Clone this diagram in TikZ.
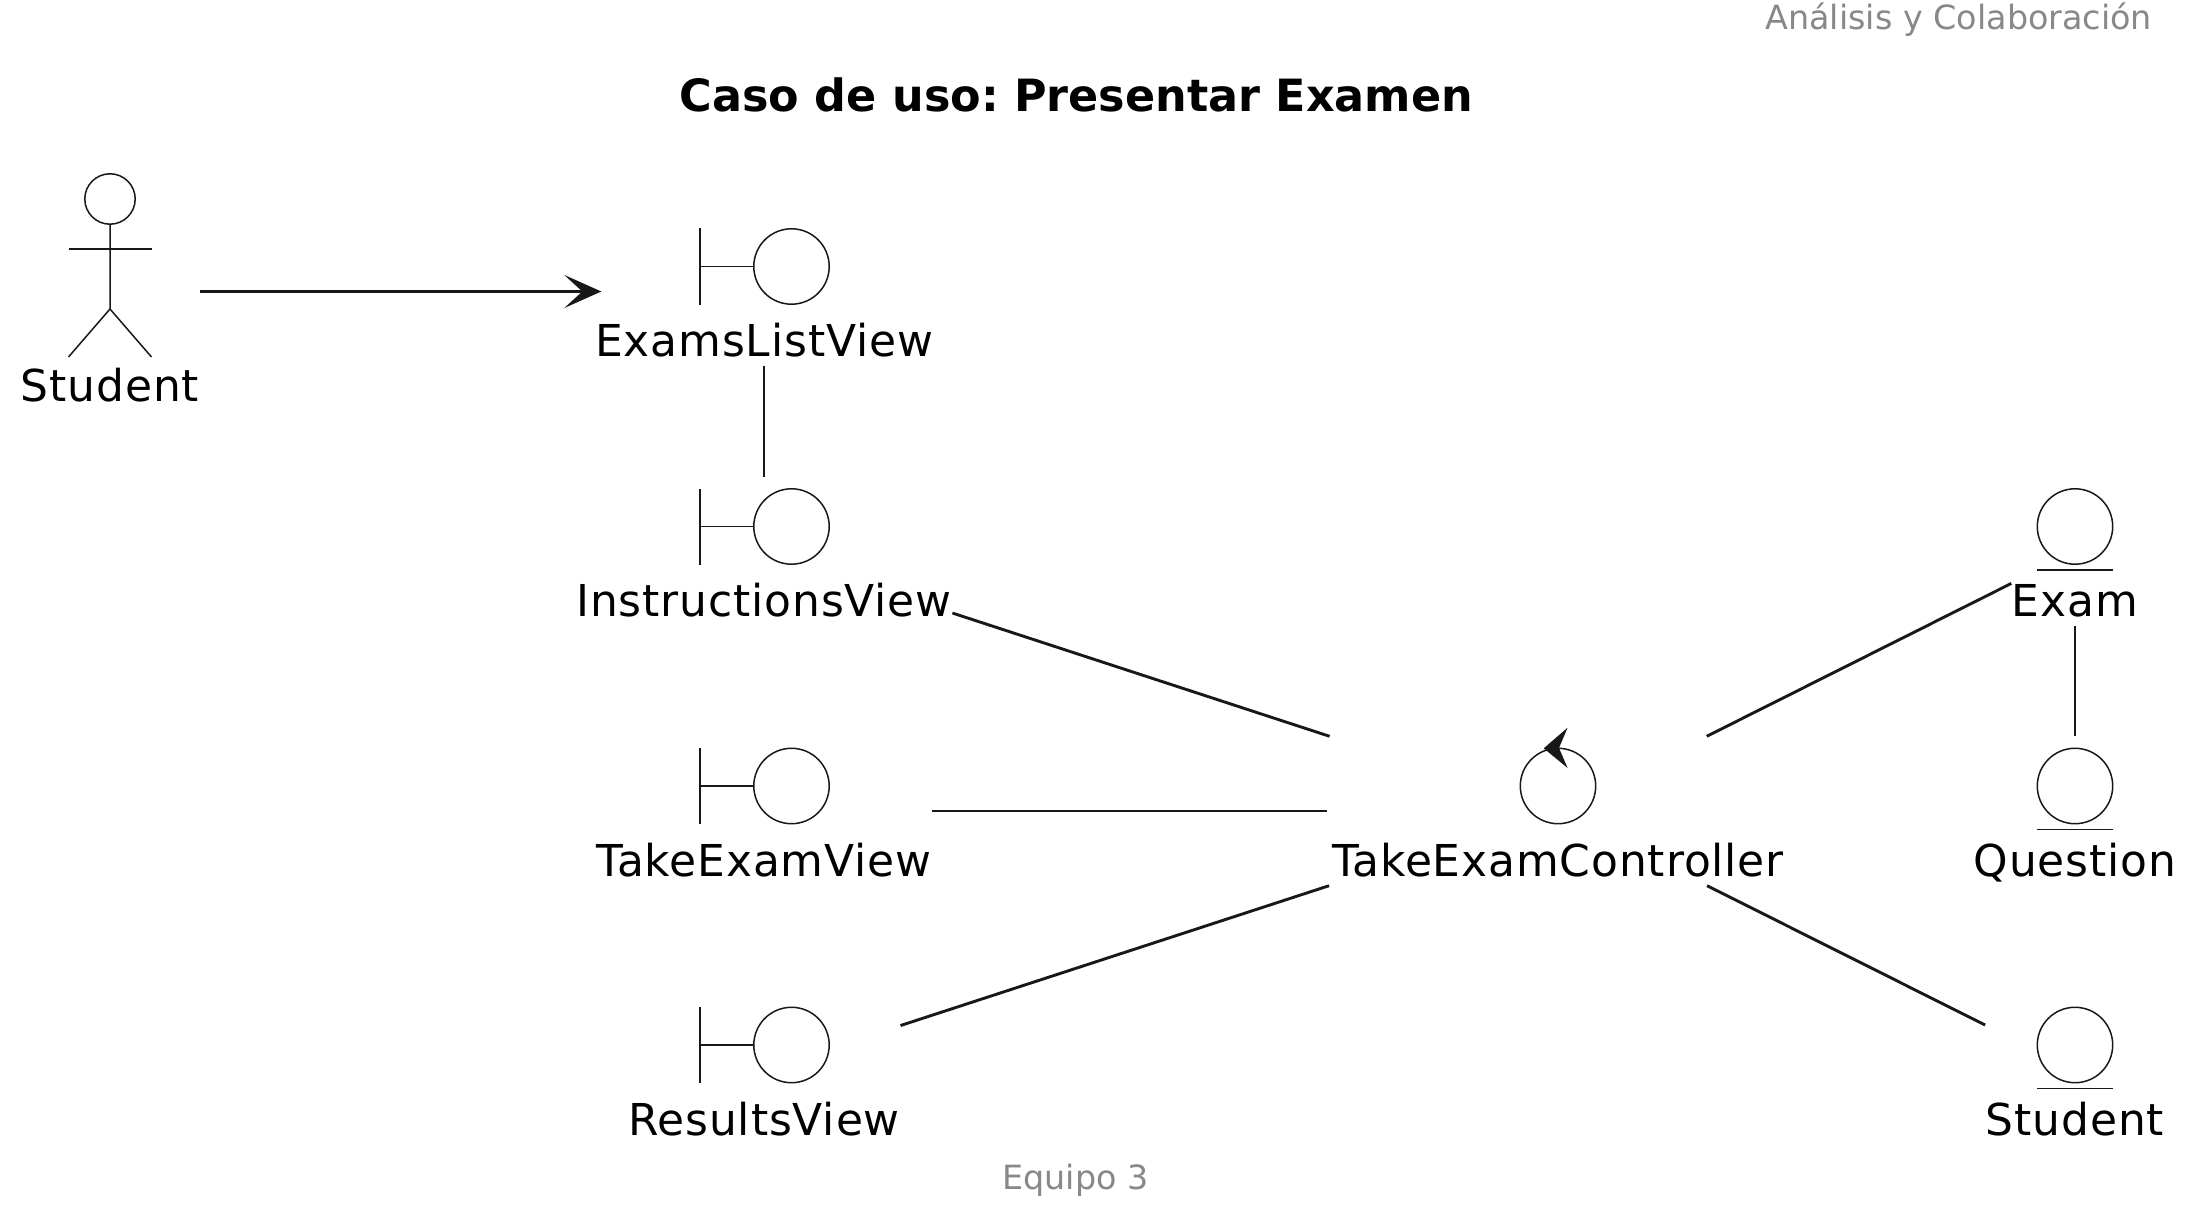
\documentclass[tikz,border=0pt]{standalone}
\usepackage{fontspec}
\setmainfont{DejaVu Sans}
\newfontfamily\labelfont[LetterSpace=2]{DejaVu Sans}
\usetikzlibrary{arrows.meta}
\definecolor{umlink}{HTML}{181818}
\definecolor{umlgrey}{HTML}{888888}
\tikzset{
	icon/.style={draw=umlink, line width=0.15mm},
	link/.style={draw=umlink, line width=0.29mm},
	robust/.style={inner sep=0, text=black, font=\labelfont\fontsize{12.5}{14}\selectfont, text height=1.39cm, text depth=0.09cm},
	actorbox/.style={robust, text height=2.29cm},
	caption/.style={anchor=base, text=umlgrey, font=\fontsize{9.5}{11}\selectfont},
}

\begin{document}
\begin{tikzpicture}
	\useasboundingbox (0,0) rectangle (21.93,12.17);

	\node[caption, anchor=base east] (header) at (21.645,11.875) {Análisis y Colaboración};
	\node[anchor=base, font=\bfseries\frenchspacing\fontsize{12.65}{15}\selectfont] (title) at (10.765,11.05) {Caso de uso: Presentar Examen};
	\node[caption] (footer) at (10.755,0.28) {Equipo 3};

	\node[actorbox] (StudentActor) at (1.10,9.255) {Student};

	\node[robust] (ExamsListView) at (7.64,9.255) {ExamsListView};
	\node[robust] (InstructionsView) at (7.64,6.655) {InstructionsView};
	\node[robust] (TakeExamView) at (7.64,4.06) {TakeExamView};
	\node[robust] (ResultsView) at (7.64,1.47) {ResultsView};

	\node[robust, minimum width=4.60cm] (TakeExamController) at (15.58,4.06) {TakeExamController};

	\node[robust] (Exam) at (20.75,6.655) {Exam};
	\node[robust] (Question) at (20.75,4.06) {Question};
	\node[robust] (StudentEntity) at (20.75,1.47) {Student};

	% actor
	\begin{scope}[shift={(StudentActor.center)}]
		\draw[icon] (0,0.925) circle (0.252);
		\draw[icon] (0,0.673) -- (0,-0.175) -- (-0.415,-0.655);
		\draw[icon] (0,-0.175) -- (0.415,-0.655);
		\draw[icon] (-0.415,0.425) -- (0.415,0.425);
	\end{scope}

	% boundaries
	\foreach \view in {ExamsListView,InstructionsView,TakeExamView,ResultsView}{
		\begin{scope}[shift={(\view.center)}]
			\draw[icon] (-0.64,0.63) -- (-0.64,-0.13);
			\draw[icon] (-0.64,0.25) -- (-0.10,0.25);
			\draw[icon] (0.275,0.25) circle (0.377);
		\end{scope}
	}

	% entities
	\foreach \model in {Exam,Question,StudentEntity}{
		\begin{scope}[shift={(\model.center)}]
			\draw[icon] (0,0.25) circle (0.377);
			\draw[icon] (-0.38,-0.185) -- (0.38,-0.185);
		\end{scope}
	}

	% control
	\begin{scope}[shift={(TakeExamController.center)}]
		\draw[icon] (0,0.25) circle (0.377);
		\fill[umlink] (-0.143,0.627) -- (0.096,0.833) -- (0.01,0.63) -- (0.096,0.43) -- cycle;
	\end{scope}

	\draw[link, shorten >=-0.07cm, -{Stealth[length=0.37cm, width=0.33cm, inset=0.18cm]}] (StudentActor) -- (ExamsListView);
	\draw[link] (ExamsListView) -- (InstructionsView);
	\draw[link] (InstructionsView) -- (TakeExamController);
	\draw[link] (TakeExamView) -- (TakeExamController);
	\draw[link] (ResultsView) -- (TakeExamController);
	\draw[link] (TakeExamController) -- (Exam);
	\draw[link] (TakeExamController) -- (StudentEntity);
	\draw[link] (Exam) -- (Question);
\end{tikzpicture}
\end{document}
